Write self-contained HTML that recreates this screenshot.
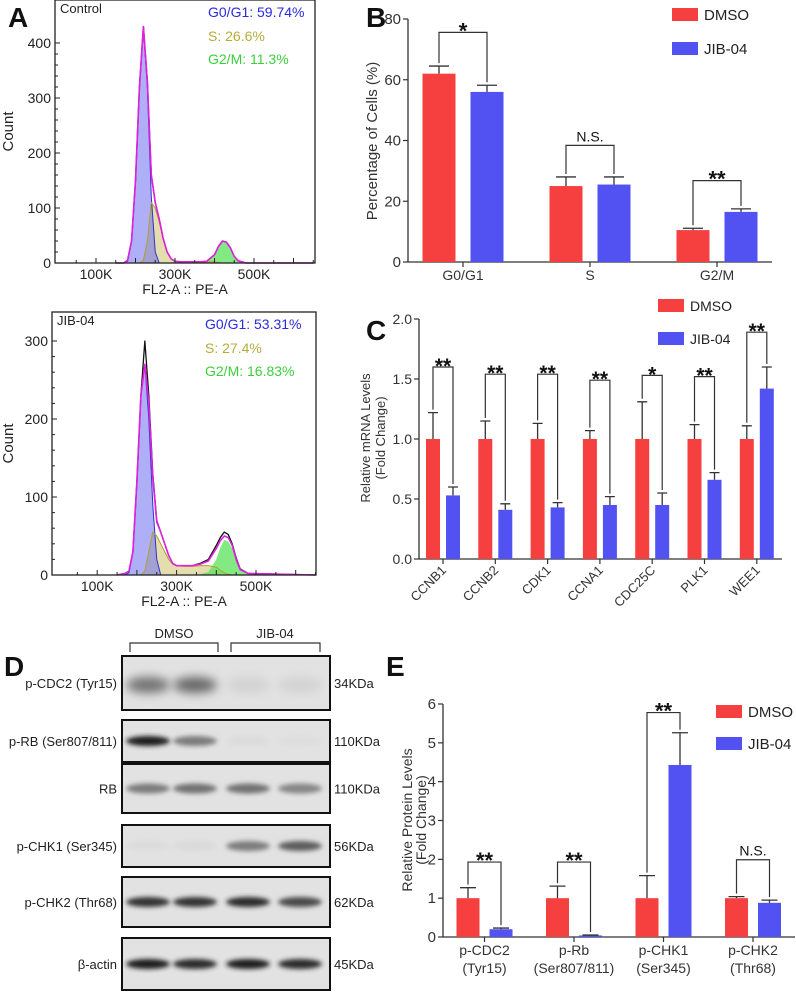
<!DOCTYPE html>
<html><head><meta charset="utf-8">
<style>
html,body{margin:0;padding:0;background:#fff;}
svg{display:block;font-family:"Liberation Sans",Arial,sans-serif;}
</style></head>
<body>
<svg id="fig" width="796" height="993" viewBox="0 0 796 993" xmlns="http://www.w3.org/2000/svg">
<defs>
<filter id="blur3" x="-30%" y="-80%" width="160%" height="260%"><feGaussianBlur stdDeviation="2.5"/></filter>
<filter id="blur6" x="-30%" y="-80%" width="160%" height="260%"><feGaussianBlur stdDeviation="5"/></filter>
</defs>
<g id="pa"></g>
<g id="pb"></g>
<g id="pc"></g>
<g id="pd"></g>
<g id="pe"></g>
</svg>
<script>
// ---------- Panel A data (flow cytometry histograms, x in K) ----------
const histX = [150,170,180,190,200,210,220,230,240,250,260,270,280,290,300,320,340,360,380,400,410,420,430,440,450,460,480,650];
const ctrlTotal = [0,0,5,40,150,320,430,330,160,110,80,45,20,8,3,2,2,2,3,15,30,40,38,28,12,4,0,0];
const ctrlG1    = [0,0,3,40,150,320,430,320,120,20,0,0,0,0,0,0,0,0,0,0,0,0,0,0,0,0,0,0];
const ctrlS     = [0,0,0,0,0,0,5,40,110,100,75,45,20,8,3,2,2,2,2,2,1,0,0,0,0,0,0,0];
const ctrlG2    = [0,0,0,0,0,0,0,0,0,0,0,0,0,0,0,0,0,0,2,15,30,40,38,28,12,3,0,0];
const jibTotal  = [0,2,5,30,120,230,300,230,130,70,55,40,25,15,12,12,12,15,20,38,48,55,52,40,22,8,2,0];
const jibFit    = [0,2,5,30,120,230,270,220,125,68,55,40,25,15,12,12,12,14,18,34,44,50,48,38,20,7,2,0];
const jibG1     = [0,0,3,30,120,230,270,200,90,20,0,0,0,0,0,0,0,0,0,0,0,0,0,0,0,0,0,0];
const jibS      = [0,0,0,0,0,0,5,30,55,50,40,30,20,14,12,11,11,12,12,10,6,3,1,0,0,0,0,0];
const jibG2     = [0,0,0,0,0,0,0,0,0,0,0,0,0,0,0,0,0,1,4,20,35,45,43,34,18,6,1,0];
const histTicksK = [100,300,500];

// ---------- Panel B data ----------
const bCats = ["G0/G1","S","G2/M"];
const bDmso = [62,25,10.5];
const bJib = [56,25.5,16.5];
const bDmsoErr = [2.5,3,0.6];
const bJibErr = [2.2,2.5,1];
const bSig = ["*","N.S.","**"];
const bSigTop = [75.6,38.4,26.8];
const bTicks = [0,20,40,60,80];

// ---------- Panel C data ----------
const cCats = ["CCNB1","CCNB2","CDK1","CCNA1","CDC25C","PLK1","WEE1"];
const cDmso = [1,1,1,1,1,1,1];
const cJib = [0.53,0.41,0.43,0.45,0.45,0.66,1.42];
const cDmsoErr = [0.22,0.15,0.13,0.07,0.31,0.12,0.11];
const cJibErr = [0.07,0.05,0.04,0.07,0.10,0.06,0.18];
const cSig = ["**","**","**","**","*","**","**"];
const cSigTop = [1.6,1.54,1.54,1.49,1.53,1.52,1.89];
const cTicks = [0,0.5,1,1.5,2];
const cTickLabels = ["0.0","0.5","1.0","1.5","2.0"];

// ---------- Panel E data ----------
const eCats = [["p-CDC2","(Tyr15)"],["p-Rb","(Ser807/811)"],["p-CHK1","(Ser345)"],["p-CHK2","(Thr68)"]];
const eDmso = [1,1,1,1];
const eJib = [0.2,0.04,4.43,0.88];
const eDmsoErr = [0.27,0.31,0.58,0.04];
const eJibErr = [0.03,0.01,0.83,0.07];
const eSig = ["**","**","**","N.S."];
const eSigTop = [1.93,1.93,5.78,1.99];
const eTicks = [0,1,2,3,4,5,6];

// ---------- Panel D data (band intensities 0..1 per lane) ----------
const blotNames = ["p-CDC2 (Tyr15)","p-RB (Ser807/811)","RB","p-CHK1 (Ser345)","p-CHK2 (Thr68)","β-actin"];
const blotKda = ["34KDa","110KDa","110KDa","56KDa","62KDa","45KDa"];
const blotBands = [[0.55,0.6,0.08,0.08],[0.95,0.5,0.03,0.02],[0.5,0.55,0.55,0.45],[0.03,0.04,0.5,0.65],[0.85,0.85,0.9,0.75],[0.95,0.9,0.95,0.9]];

const NS="http://www.w3.org/2000/svg";
function el(tag, attrs, parent){const e=document.createElementNS(NS,tag);for(const k in attrs)e.setAttribute(k,attrs[k]);parent.appendChild(e);return e;}
function txt(s, attrs, parent){const e=el('text',attrs,parent);e.textContent=s;return e;}
const RED="#f63f3f", BLUE="#5252f2", AX="#333";

// ---------- Panel A ----------
const pa=document.getElementById('pa');
function letter(ch,x,y,parent){const t=txt(ch,{x:x,y:y,'font-size':28,'font-weight':'bold',fill:'#111'},parent);}
letter('A',8,27,pa);
function histo(parent,fx0,fx1,fy0,fy1,kZero,pxPerK,pxPerCount,maxTick,tickStep,name,labels,total,fit,g1,s,g2){
  const X=k=>kZero+k*pxPerK, Y=c=>fy1-c*pxPerCount;
  const g=el('g',{},parent);
  const area=(arr,fill,nm)=>{let d='M'+X(histX[0])+','+Y(0);histX.forEach((k,i)=>{d+=' L'+X(k)+','+Y(arr[i]);});d+=' L'+X(histX[histX.length-1])+','+Y(0)+'Z';const p=el('path',{d:d,fill:fill,stroke:'none'},g);};
  const line=(arr,stroke,w,nm)=>{let d='';histX.forEach((k,i)=>{d+=(i?' L':'M')+X(k)+','+Y(arr[i]);});const p=el('path',{d:d,fill:'none',stroke:stroke,'stroke-width':w,'stroke-linejoin':'round'},g);};
  area(s,'rgba(210,200,120,0.6)','s-phase-area');
  area(g1,'rgba(110,110,240,0.55)','g1-phase-area');
  area(g2,'rgba(90,225,90,0.75)','g2m-phase-area');
  line(g1,'#3030d0',1,'g1-outline');
  line(s,'#b0a030',1,'s-outline');
  line(total,'#111',1.3,'histogram-line');
  line(fit,'#e020e0',1.6,'model-fit-line');
  const fr=el('rect',{x:fx0,y:fy0,width:fx1-fx0,height:fy1-fy0,fill:'none',stroke:'#222','stroke-width':1.3},g);
  for(let c=0;c<=maxTick;c+=tickStep/5){const big=Math.abs(c/tickStep-Math.round(c/tickStep))<1e-6;const y=Y(c);if(y<fy0)break;el('line',{x1:fx0,x2:fx0+(big?5:3),y1:y,y2:y,stroke:'#222','stroke-width':1},g);if(big){const t=txt(String(Math.round(c)),{x:fx0-4,y:y+5,'font-size':14,'text-anchor':'end',fill:'#222'},g);}}
  for(let k=50;k<=650;k+=50){const x=X(k);if(x>fx1)break;el('line',{x1:x,x2:x,y1:fy1,y2:fy1-((k%100==0)?5:3),stroke:'#222','stroke-width':1},g);}
  histTicksK.forEach(k=>{const t=txt(k+'K',{x:X(k),y:fy1+16,'font-size':14,'text-anchor':'middle',fill:'#222'},g);});
  const xt=txt('FL2-A :: PE-A',{x:(fx0+fx1)/2,y:fy1+31,'font-size':14,'text-anchor':'middle',fill:'#222'},g);
  const yt=txt('Count',{x:0,y:0,'font-size':15,'text-anchor':'middle',fill:'#222',transform:'translate(13,'+((fy0+fy1)/2)+') rotate(-90)'},g);
  const sn=txt(labels[0],{x:fx0+5,y:fy0+13,'font-size':13,fill:'#222'},g);
  const l1=txt(labels[1],{x:fx0+153,y:fy0+17,'font-size':14,fill:'#2a2ae0'},g);
  const l2=txt(labels[2],{x:fx0+153,y:fy0+41,'font-size':14,fill:'#b8ab3a'},g);
  const l3=txt(labels[3],{x:fx0+153,y:fy0+64,'font-size':14,fill:'#3bd03b'},g);
}
histo(pa,55,315,0,263,56.5,0.395,0.55,400,100,'control-histogram',['Control','G0/G1: 59.74%','S: 26.6%','G2/M: 11.3%'],ctrlTotal,ctrlTotal,ctrlG1,ctrlS,ctrlG2);
histo(pa,52,316,312,575,57.5,0.397,0.78,300,100,'jib04-histogram',['JIB-04','G0/G1: 53.31%','S: 27.4%','G2/M: 16.83%'],jibTotal,jibFit,jibG1,jibS,jibG2);

// ---------- generic bar chart ----------
function barChart(parent,o){
  const Y=v=>o.y0-v*(o.y0-o.yTop)/o.vmax;
  const C=i=>o.c0+i*o.step;
  const g=el('g',{},parent);
  const ya=el('line',{x1:o.ax,x2:o.ax,y1:o.yTop,y2:o.y0,stroke:AX,'stroke-width':1.3},g);
  const xa=el('line',{x1:o.ax,x2:o.axEnd,y1:o.y0,y2:o.y0,stroke:AX,'stroke-width':1.3},g);
  o.ticks.forEach((v,i)=>{el('line',{x1:o.ax-5,x2:o.ax,y1:Y(v),y2:Y(v),stroke:AX,'stroke-width':1.2},g);
    const t=txt(o.tickLabels?o.tickLabels[i]:String(v),{x:o.ax-7,y:Y(v)+5,'font-size':o.tfs,'text-anchor':'end',fill:'#333'},g);});
  o.cats.forEach((c,i)=>{
    el('line',{x1:C(i),x2:C(i),y1:o.y0,y2:o.y0+5,stroke:AX,'stroke-width':1.2},g);
    const rb=el('rect',{x:C(i)-o.off-o.bw,y:Y(o.d[i]),width:o.bw,height:o.y0-Y(o.d[i]),fill:RED},g);
    const bb=el('rect',{x:C(i)+o.off,y:Y(o.j[i]),width:o.bw,height:o.y0-Y(o.j[i]),fill:BLUE},g);
    const xr=C(i)-o.off-o.bw/2, xb=C(i)+o.off+o.bw/2;
    [[xr,o.d[i],o.de[i]],[xb,o.j[i],o.je[i]]].forEach(([x,v,e],k)=>{
      const p=el('path',{d:'M'+x+','+Y(v)+' V'+Y(v+e)+' M'+(x-o.cap)+','+Y(v+e)+' H'+(x+o.cap),stroke:'#333','stroke-width':1.3,fill:'none'},g);});
    const top=Y(o.sig[i]);
    const br=el('path',{d:'M'+xr+','+(Y(o.d[i]+o.de[i])-3)+' V'+top+' H'+xb+' V'+(Y(o.j[i]+o.je[i])-3),stroke:'#333','stroke-width':1.2,fill:'none'},g);
    const s=o.sigL[i];const isStar=s.indexOf('*')>=0;const st=txt(s,{x:(xr+xb)/2,y:top-(isStar?-6:4),'font-size':isStar?o.starFs:o.fs,'font-weight':isStar?'bold':'normal','text-anchor':'middle',fill:'#111'},g);
    if(o.rot){const t=txt(c,{x:0,y:0,'font-size':o.fs,'text-anchor':'end',fill:'#333',transform:'translate('+(C(i)+4)+','+(o.y0+12)+') rotate(-45)'},g);}
    else{const lines=Array.isArray(c)?c:[c];lines.forEach((ln,k)=>{const t=txt(ln,{x:C(i),y:o.y0+18+k*18,'font-size':o.fs,'text-anchor':'middle',fill:'#333'},g);});}
  });
  [[RED,'DMSO',o.legY],[BLUE,'JIB-04',o.legY+o.legGap]].forEach(([col,lab,y],k)=>{
    const r=el('rect',{x:o.legX,y:y,width:26,height:13,fill:col},g);
    const t=txt(lab,{x:o.legX+32,y:y+12,'font-size':o.fs+1,fill:'#222'},g);});
  o.yTitle.forEach((ln,k)=>{const t=txt(ln,{x:0,y:0,'font-size':o.yfs,'text-anchor':'middle',fill:'#333',transform:'translate('+(o.yTitleX+k*o.yTitleGap)+','+o.yTitleY+') rotate(-90)'},g);});
}
const pb=document.getElementById('pb');letter('B',366,27,pb);
barChart(pb,{ax:408,axEnd:772,y0:262,yTop:19,vmax:80,ticks:bTicks,cats:bCats,d:bDmso,j:bJib,de:bDmsoErr,je:bJibErr,sig:bSigTop,sigL:bSig,c0:463,step:127,bw:33,off:7.5,cap:10,fs:14,tfs:15,yfs:15,starFs:22,legX:672,legY:8,legGap:34,yTitle:['Percentage of Cells (%)'],yTitleX:377,yTitleGap:0,yTitleY:141});
const pc=document.getElementById('pc');letter('C',366,340,pc);
barChart(pc,{ax:419,axEnd:782,y0:559,yTop:319,vmax:2,ticks:cTicks,tickLabels:cTickLabels,cats:cCats,d:cDmso,j:cJib,de:cDmsoErr,je:cJibErr,sig:cSigTop,sigL:cSig,c0:443,step:52.3,bw:14,off:3,cap:5,fs:13,tfs:14,yfs:13,starFs:21,legX:658,legY:299,legGap:33,yTitle:['Relative mRNA Levels','(Fold Change)'],yTitleX:370,yTitleGap:15,yTitleY:438,rot:true});
const pe=document.getElementById('pe');letter('E',386,676,pe);
barChart(pe,{ax:443,axEnd:795,y0:937,yTop:704,vmax:6,ticks:eTicks,cats:eCats,d:eDmso,j:eJib,de:eDmsoErr,je:eJibErr,sig:eSigTop,sigL:eSig,c0:484.5,step:89.5,bw:23,off:5,cap:8,fs:14,tfs:15,yfs:14,starFs:22,legX:716,legY:705,legGap:32,yTitle:['Relative Protein Levels','(Fold Change)'],yTitleX:412,yTitleGap:14,yTitleY:820});

// ---------- Panel D ----------
const pd=document.getElementById('pd');letter('D',4,676,pd);
const boxes=[[656,710],[720,762],[764,813],[825,867],[877,927],[938,990]];
const lanes=[148,195,248,300];
const hd=el('path',{d:'M130,652 V643 H218 V652 M231,652 V643 H320 V652',stroke:'#333','stroke-width':1.2,fill:'none'},pd);
const h1=txt('DMSO',{x:174,y:638,'font-size':13,'text-anchor':'middle',fill:'#222'},pd);
const h2=txt('JIB-04',{x:275,y:638,'font-size':13,'text-anchor':'middle',fill:'#222'},pd);
blotNames.forEach((nm,i)=>{
  const [y0,y1]=boxes[i];const cy=(y0+y1)/2+(i==0?2:0);
  const g=el('g',{},pd);
  el('rect',{x:122,y:y0,width:208,height:y1-y0,fill:'#e2e2e2'},g);
  blotBands[i].forEach((v,k)=>{
    const shade=Math.round(226-v*206);
    const b=el('ellipse',{cx:lanes[k],cy:cy,rx:22,ry:i==0?8:5,fill:'rgb('+shade+','+shade+','+shade+')',filter:i==0?'url(#blur6)':'url(#blur3)'},g);});
  const fr=el('rect',{x:122,y:y0,width:208,height:y1-y0,fill:'none',stroke:'#111','stroke-width':2},g);
  const l=txt(nm,{x:117,y:(y0+y1)/2+5,'font-size':13,'text-anchor':'end',fill:'#222'},g);
  const kd=txt(blotKda[i],{x:334,y:(y0+y1)/2+5,'font-size':13,fill:'#222'},g);
});
</script>
</body></html>
